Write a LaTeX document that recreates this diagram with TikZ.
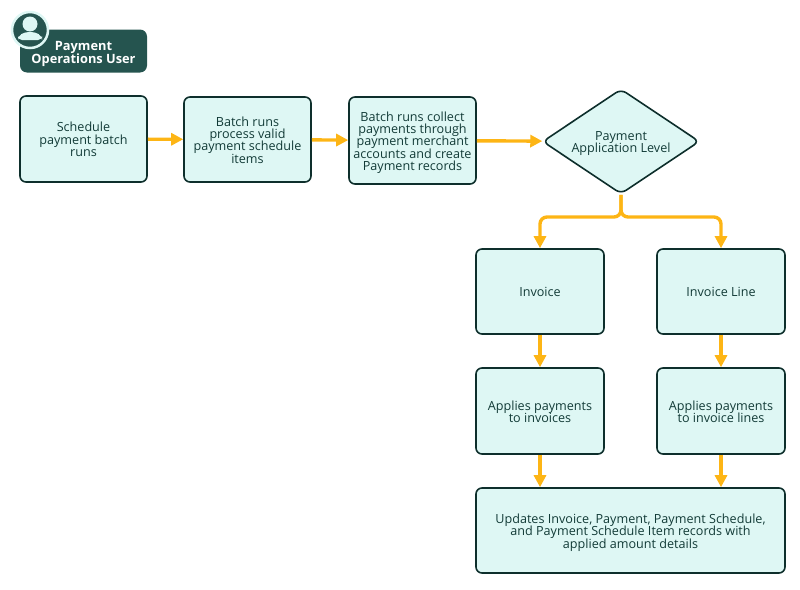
\documentclass[tikz,border=0pt]{standalone}
\usepackage{fontspec}
\setmainfont{Open Sans}
\usetikzlibrary{arrows.meta,shapes.geometric}
\definecolor{boxfill}{HTML}{DEF7F4}
\definecolor{boxline}{HTML}{0E2F2C}
\definecolor{userfill}{HTML}{25544F}
\definecolor{flowcolor}{HTML}{FDB515}
\definecolor{boxtext}{HTML}{123B37}
\newcommand{\tightlines}{\lineskiplimit=-6pt\relax}
\newcommand{\topstrut}{\rule{0pt}{13.5pt}}
\newcommand{\botstrut}{\rule[-3pt]{0pt}{3pt}}
\tikzset{
	stepbox/.style={draw=boxline,fill=boxfill,line width=1.6pt,rounded corners=6pt,align=center,text=boxtext,font=\fontsize{12.6}{12.3}\selectfont\tightlines,inner sep=0pt,execute at end node=\botstrut},
	flow/.style={draw=flowcolor,line width=3.4pt,-{Triangle[length=12pt,width=12pt]}},
}
\begin{document}
\begin{tikzpicture}[x=1pt,y=-1pt]
	\useasboundingbox (0,0) rectangle (800,589);

	% user badge
	\node[fill=userfill,rounded corners=7pt,minimum width=127pt,minimum height=43pt,inner sep=0pt,align=center,text=white,font=\fontsize{12.8}{13}\selectfont\bfseries\tightlines,execute at end node=\botstrut] (user) at (83.5,51) {\rule{0pt}{16pt}Payment\\Operations User};
	\node[circle,fill=userfill,draw=boxfill,line width=2.5pt,minimum size=36pt,inner sep=0pt] (usericon) at (30,30) {};
	\fill[boxfill] (30,24) circle (7.5);
	\fill[boxfill,rounded corners=4pt] (18,40) -- (18,36) -- (25,32) -- (35,32) -- (42,36) -- (42,40) -- cycle;

	% first row
	\node[stepbox,minimum width=127pt,minimum height=86pt] (schedule) at (83.5,139) {\topstrut Schedule\\payment batch\\runs};
	\node[stepbox,minimum width=127pt,minimum height=85pt] (process) at (247.5,139.5) {\topstrut Batch runs\\process valid\\payment schedule\\items};
	\node[stepbox,minimum width=127pt,minimum height=87pt] (collect) at (412.5,140.5) {\topstrut Batch runs collect\\payments through\\payment merchant\\accounts and create\\Payment records};
	\node[stepbox,diamond,aspect=1.5,minimum width=157pt,minimum height=105pt] (level) at (621,141.5) {\topstrut Payment\\Application Level};

	% two branches
	\node[stepbox,minimum width=128pt,minimum height=85pt] (invoice) at (540,291.5) {\topstrut Invoice};
	\node[stepbox,minimum width=128pt,minimum height=85pt] (invline) at (721,291.5) {\topstrut Invoice Line};
	\node[stepbox,minimum width=128pt,minimum height=86pt] (applyinv) at (540,411) {\topstrut Applies payments\\to invoices};
	\node[stepbox,minimum width=128pt,minimum height=86pt] (applyline) at (721,411) {\topstrut Applies payments\\to invoice lines};
	\node[stepbox,minimum width=309pt,minimum height=85pt] (updates) at (630.5,530.5) {\topstrut Updates Invoice, Payment, Payment Schedule,\\and Payment Schedule Item records with\\applied amount details};

	\coordinate (split) at (621,217);
	\draw[flow] (schedule) -- (process);
	\draw[flow] (process) -- (collect);
	\draw[flow] (collect) -- (level);
	\draw[flow,rounded corners=7pt] (level.south) -- (split) -| (invoice.north);
	\draw[flow,rounded corners=7pt] (level.south) -- (split) -| (invline.north);
	\draw[flow] (invoice) -- (applyinv);
	\draw[flow] (invline) -- (applyline);
	\draw[flow] (applyinv.south) -- (applyinv.south |- updates.north);
	\draw[flow] (applyline.south) -- (applyline.south |- updates.north);
\end{tikzpicture}
\end{document}
